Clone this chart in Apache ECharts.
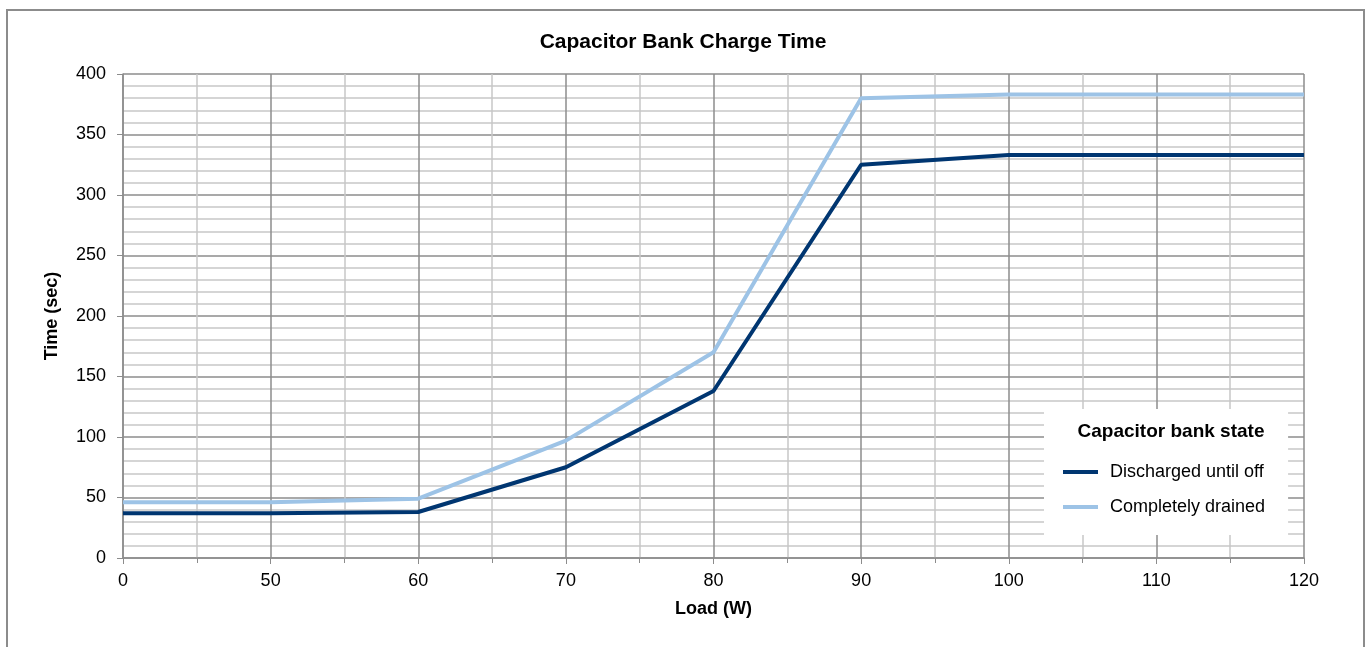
<!DOCTYPE html>
<html><head><meta charset="utf-8">
<script src="https://cdn.jsdelivr.net/npm/echarts@6/dist/echarts.min.js"></script>
<style>html,body{margin:0;padding:0;background:#fff}#c{width:1368px;height:647px}</style>
</head><body><div id="c"></div>
<script>
const loadLabels = ['0','50','60','70','80','90','100','110','120'];
const dischargedUntilOff = [37, 37, 38, 75, 138, 325, 333, 333, 333];
const completelyDrained = [46, 46, 49, 97, 170, 380, 383, 383, 383];
const seriesNames = ['Discharged until off', 'Completely drained'];
const colors = ['#003671', '#9dc3e6'];

const FONT = '"Liberation Sans", Arial, sans-serif';
const chart = echarts.init(document.getElementById('c'), null, {renderer: 'canvas'});
chart.setOption({
  animation: false,
  textStyle: {fontFamily: FONT},
  graphic: [{type: 'rect', shape: {x: 7, y: 10, width: 1357, height: 645},
    style: {fill: 'none', stroke: '#8c8c8c', lineWidth: 2}, z: 100}],
  title: [
    {text: 'Capacitor Bank Charge Time', left: 678, top: 27, textAlign: 'center',
     textStyle: {fontFamily: FONT, fontSize: 21, fontWeight: 'bold', color: '#000'}},
    {text: 'Capacitor bank state', left: 1166, top: 417, textAlign: 'center', z: 10,
     textStyle: {fontFamily: FONT, fontSize: 19, fontWeight: 'bold', color: '#000'}}
  ],
  legend: {
    orient: 'vertical', left: 1044, top: 409,
    padding: [54, 23, 19, 19], backgroundColor: '#fff',
    itemWidth: 35, itemHeight: 4, itemGap: 17, icon: 'rect',
    data: seriesNames,
    textStyle: {fontFamily: FONT, fontSize: 18, color: '#000', padding: [0, 0, 0, 7], lineHeight: 18}
  },
  grid: {left: 123, right: 64, top: 74, bottom: 89},
  xAxis: [{
    type: 'category', data: loadLabels, boundaryGap: false,
    name: 'Load (W)', nameLocation: 'middle', nameGap: 42,
    nameTextStyle: {fontFamily: FONT, fontSize: 18, fontWeight: 'bold', color: '#000'},
    axisLine: {lineStyle: {color: '#8c8c8c', width: 1.5}},
    axisTick: {show: true, length: 6, lineStyle: {color: '#8c8c8c'}, alignWithLabel: true},
    axisLabel: {fontFamily: FONT, fontSize: 18, color: '#000', margin: 14},
    splitLine: {show: true, lineStyle: {color: '#8c8c8c', width: 1.5}}
  }, {
    type: 'value', min: 0, max: 8, interval: 1, position: 'bottom',
    axisLine: {show: false}, axisLabel: {show: false}, axisTick: {show: false},
    splitLine: {show: false},
    minorTick: {show: true, splitNumber: 2, length: 5, lineStyle: {color: '#8c8c8c'}},
    minorSplitLine: {show: true, lineStyle: {color: '#c8c8c8', width: 1.5}}
  }],
  yAxis: {
    type: 'value', min: 0, max: 400, interval: 50,
    name: 'Time (sec)', nameLocation: 'middle', nameGap: 62,
    nameTextStyle: {fontFamily: FONT, fontSize: 18, fontWeight: 'bold', color: '#000'},
    axisLine: {show: true, lineStyle: {color: '#8c8c8c', width: 1.5}},
    axisTick: {show: true, length: 6, lineStyle: {color: '#8c8c8c'}},
    axisLabel: {fontFamily: FONT, fontSize: 18, color: '#000', margin: 17},
    splitLine: {show: true, lineStyle: {color: '#8c8c8c', width: 1.5}},
    minorTick: {show: false, splitNumber: 5},
    minorSplitLine: {show: true, lineStyle: {color: '#c8c8c8', width: 1.5}}
  },
  series: [
    {name: seriesNames[0], type: 'line', data: dischargedUntilOff, symbol: 'none',
     color: colors[0], lineStyle: {width: 4, color: colors[0]}, z: 3},
    {name: seriesNames[1], type: 'line', data: completelyDrained, symbol: 'none',
     color: colors[1], lineStyle: {width: 4, color: colors[1]}, z: 2}
  ]
});
</script></body></html>
